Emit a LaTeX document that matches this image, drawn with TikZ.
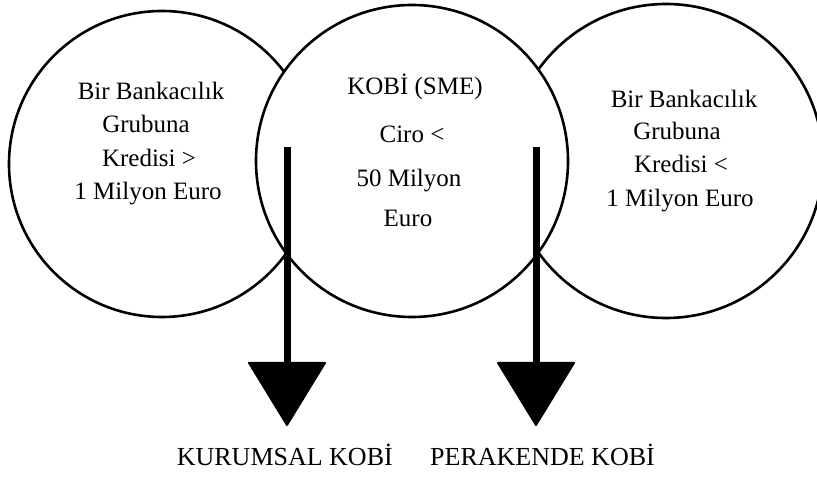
\documentclass[tikz,border=0pt]{standalone}
\usepackage{fontspec}
\setmainfont{Liberation Serif}
\usetikzlibrary{arrows.meta}
\begin{document}
\begin{tikzpicture}[x=1pt,y=-1pt,
  ring/.style={draw=black, line width=2.6pt, fill=white, circle, inner sep=0pt, minimum size=#1},
  txt/.style={anchor=base, inner sep=0pt, font=\fontsize{25}{30}\selectfont},
  bigarrow/.style={line width=7pt, -{Triangle[width=79pt,length=65pt,round,line width=2pt]}}]
\useasboundingbox (0,0) rectangle (817,478);
% circles
\node[ring=306pt] (left) at (162,164) {};
\node[ring=314pt] (right) at (666,161) {};
\node[ring=312pt] (mid) at (412,161) {};
% left circle text
\node[txt] (l1) at (151,100) {Bir Bankacılık};
\node[txt] (l2) at (146,133) {Grubuna};
\node[txt] (l3) at (149,167) {Kredisi >};
\node[txt] (l4) at (148,200) {1 Milyon Euro};
% middle circle text
\node[txt] (m1) at (415,95) {KOBİ (SME)};
\node[txt] (m2) at (412,143) {Ciro <};
\node[txt] (m3) at (409,187) {50 Milyon};
\node[txt] (m4) at (408,227) {Euro};
% right circle text
\node[txt] (r1) at (684,108) {Bir Bankacılık};
\node[txt] (r2) at (677,140) {Grubuna};
\node[txt] (r3) at (681,173) {Kredisi <};
\node[txt] (r4) at (680,207) {1 Milyon Euro};
% bottom labels
\node[txt, anchor=base east, font=\fontsize{26}{30}\selectfont] (kur) at (393,465) {KURUMSAL KOBİ};
\node[txt, anchor=base west, font=\fontsize{26}{30}\selectfont] (per) at (430,465) {PERAKENDE KOBİ};
% arrows
\coordinate (ka) at (287,147);
\coordinate (kb) at (287,426);
\coordinate (pa) at (536,147);
\coordinate (pb) at (536,426);
\draw[bigarrow] (ka) -- (kb);
\draw[bigarrow] (pa) -- (pb);
\end{tikzpicture}
\end{document}
